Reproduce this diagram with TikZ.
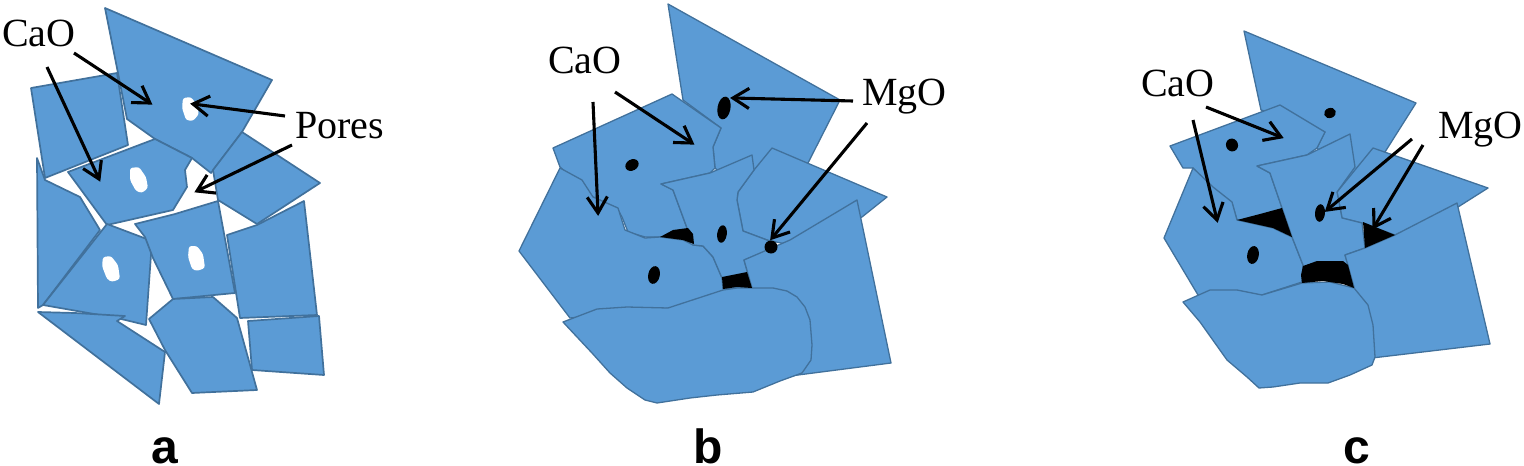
\documentclass[tikz,border=0pt]{standalone}
\usepackage{fontspec}
\setmainfont{Liberation Serif}
\newfontfamily\panelfont{Liberation Sans}
\usetikzlibrary{calc}
\definecolor{grainfill}{HTML}{5B9BD5}
\definecolor{grainedge}{HTML}{41719C}
\tikzset{
  grain/.style={fill=grainfill,draw=grainedge,line width=1.7pt,line join=round},
  grainthin/.style={grain,line width=1.3pt},
  pore/.style={fill=white,draw=none,rounded corners=2.5pt},
  oxide/.style={fill=black,draw=none},
  callout/.style={line width=3.1pt,black,line cap=butt},
  barb/.style={line width=3.1pt,black,line join=miter,line cap=butt},
  lab/.style={font=\fontsize{40}{42}\selectfont,anchor=base west,inner sep=0pt,outer sep=0pt,text=black},
  panel/.style={font=\panelfont\bfseries\fontsize{48}{50}\selectfont,anchor=base,inner sep=0pt,text=black}
}
\begin{document}
\begin{tikzpicture}[x=1pt,y=-1pt]
\useasboundingbox (0,0) rectangle (1524,466);
% ---- panel a ----
\draw[grain] (31,88)--(117,73)--(128,145)--(45,178)--cycle;
\draw[grain] (105,8)--(272,80)--(242,132)--(211,173)--(192,158)--(155,139)--(127,119)--(118,73)--cycle;
\draw[grain] (242,132)--(320,183)--(257,224)--(218,200)--(213,170)--cycle;
\draw[grain] (68,172)--(155,139)--(192,158)--(185,170)--(187,187)--(173,210)--(107,225)--cycle;
\draw[grain] (37,158)--(45,180)--(80,197)--(100,230)--(43,305)--(38,308)--cycle;
\draw[grain] (107,224)--(152,241)--(146,325)--(117,318)--(43,305)--cycle;
\draw[grain] (135,224)--(175,214)--(218,201)--(235,293)--(173,299)--(153,258)--(145,237)--cycle;
\draw[grain] (227,235)--(257,225)--(304,201)--(317,315)--(240,318)--cycle;
\draw[grain] (248,321)--(319,316)--(324,375)--(252,370)--cycle;
\draw[grain] (173,299)--(213,297)--(237,318)--(257,390)--(192,393)--(165,350)--(149,319)--cycle;
\draw[grain] (38,312)--(75,313)--(125,316)--(117,321)--(165,352)--(159,404)--cycle;
\path[pore] (183,98)--(191,97)--(197,105)--(199,114)--(193,121)--(186,120)--(182,108)--cycle;
\path[pore] (130,168)--(139,167)--(146,177)--(148,188)--(142,193)--(136,191)--(130,180)--cycle;
\path[pore] (103,257)--(111,256)--(118,265)--(120,279)--(112,282)--(107,279)--(102,266)--cycle;
\path[pore] (189,246)--(197,246)--(203,254)--(205,268)--(197,271)--(192,269)--(188,257)--cycle;
% ---- panel b ----
\draw[grainthin] (668,4)--(840,100)--(808,163)--(750,200)--(715,168)--(713,147)--(721,128)--(683,100)--cycle;
\draw[grainthin] (772,148)--(887,197)--(862,217)--(790,245)--(767,240)--(743,231)--(737,200)--(738,192)--(754,170)--cycle;
\draw[grainthin] (553,148)--(672,94)--(721,128)--(713,147)--(715,168)--(710,173)--(661,184)--(673,190)--(687,228)--(694,243)--(660,237)--(645,237)--(628,232)--(622,217)--(617,208)--(593,197)--(560,167)--cycle;
\draw[grainthin] (560,168)--(582,180)--(593,197)--(618,208)--(625,230)--(645,238)--(660,237)--(683,240)--(693,245)--(703,246)--(713,257)--(722,278)--(726,292)--(670,308)--(570,318)--(519,251)--cycle;
\draw[grainthin] (661,184)--(710,173)--(752,155)--(754,170)--(738,192)--(737,200)--(743,231)--(767,240)--(777,247)--(744,260)--(752,288)--(723,289)--(722,278)--(713,257)--(703,246)--(693,245)--(687,228)--(673,190)--cycle;
\draw[grainthin] (744,260)--(767,250)--(790,240)--(857,200)--(891,363)--(790,376)--(752,288)--cycle;
\draw[grainthin] (563,322)--(597,309)--(627,307)--(668,308)--(723,290)--(737,288)--(773,288)--(787,291)--(797,297)--(805,307)--(810,320)--(812,345)--(811,360)--(802,373)--(780,381)--(753,392)--(717,395)--(690,398)--(657,403)--(645,400)--(627,388)--(610,373)--(592,353)--(577,337)--cycle;
\fill[oxide,rotate around={-10:(724,108)}] (724,108) ellipse (6.5 and 11.5);
\fill[oxide,rotate around={30:(632,165)}] (632,165) ellipse (7 and 5.5);
\path[oxide] (660,237)--(673,230)--(688,228)--(693,234)--(694,244)--(683,240)--cycle;
\fill[oxide,rotate around={-8:(722,234)}] (722,234) ellipse (4.8 and 8.8);
\fill[oxide] (771,247) circle (6.5);
\fill[oxide,rotate around={-12:(654,275)}] (654,275) ellipse (5.8 and 9);
\path[oxide] (722,277)--(747,272)--(752,288)--(737,287)--(723,289)--cycle;
% ---- panel c ----
\draw[grainthin] (1244,31)--(1416,103)--(1385,152)--(1355,190)--(1317,148)--(1325,132)--(1261,110)--cycle;
\draw[grainthin] (1373,148)--(1488,188)--(1458,207)--(1395,235)--(1362,223)--(1342,218)--(1337,192)--cycle;
\draw[grainthin] (1170,146)--(1280,105)--(1325,132)--(1317,148)--(1307,155)--(1257,166)--(1270,173)--(1282,208)--(1292,237)--(1237,220)--(1232,203)--(1213,192)--(1193,168)--(1183,168)--cycle;
\draw[grainthin] (1193,168)--(1213,187)--(1232,202)--(1237,220)--(1273,228)--(1292,237)--(1303,265)--(1302,282)--(1262,295)--(1198,295)--(1164,238)--cycle;
\draw[grainthin] (1257,166)--(1307,155)--(1350,134)--(1355,167)--(1337,192)--(1342,218)--(1362,223)--(1365,248)--(1345,255)--(1350,270)--(1303,270)--(1303,265)--(1292,237)--(1282,208)--(1270,173)--cycle;
\draw[grainthin] (1345,255)--(1365,248)--(1395,235)--(1457,203)--(1490,344)--(1372,358)--(1360,320)--(1354,287)--cycle;
\draw[grainthin] (1183,302)--(1210,290)--(1237,290)--(1262,295)--(1302,283)--(1330,282)--(1354,288)--(1368,305)--(1373,325)--(1375,357)--(1372,365)--(1350,375)--(1328,383)--(1300,383)--(1273,387)--(1259,388)--(1247,377)--(1227,360)--(1200,322)--cycle;
\fill[oxide,rotate around={20:(1330,113)}] (1330,113) ellipse (6 and 5);
\fill[oxide,rotate around={20:(1232,145)}] (1232,145) ellipse (6 and 6.5);
\path[oxide] (1237,220)--(1260,214)--(1282,208)--(1292,237)--(1273,228)--cycle;
\fill[oxide,rotate around={-5:(1320,213)}] (1320,213) ellipse (5 and 8.8);
\path[oxide] (1363,222)--(1395,235)--(1365,248)--cycle;
\fill[oxide,rotate around={-10:(1253,255)}] (1253,255) ellipse (5.8 and 9);
\path[oxide] (1303,266)--(1317,261)--(1343,261)--(1348,265)--(1354,288)--(1343,284)--(1323,281)--(1302,283)--(1301,275)--cycle;
% ---- labels ----
\node[lab] (cao a) at (2,46) {CaO};
\node[lab] (pores) at (295,138) {Pores};
\node[lab] (cao b) at (548,73) {CaO};
\node[lab] (mgo b) at (862,105) {MgO};
\node[lab] (cao c) at (1141,96) {CaO};
\node[lab] (mgo c) at (1438,138) {MgO};
\node[panel] (pa) at (165,463) {a};
\node[panel] (pb) at (708,463) {b};
\node[panel] (pc) at (1357,463) {c};
% ---- connector ends ----
\coordinate (a1s) at (74,53);   \coordinate (a1e) at (150,103);
\coordinate (a2s) at (47,67);   \coordinate (a2e) at (99,179);
\coordinate (a3s) at (285,116); \coordinate (a3e) at (193,104);
\coordinate (a4s) at (292,145); \coordinate (a4e) at (197,191);
\coordinate (b1s) at (593,102); \coordinate (b1e) at (598,213);
\coordinate (b2s) at (615,92);  \coordinate (b2e) at (692,143);
\coordinate (b3s) at (853,101); \coordinate (b3e) at (733,98);
\coordinate (b4s) at (867,123); \coordinate (b4e) at (772,238);
\coordinate (c1s) at (1193,120); \coordinate (c1e) at (1217,220);
\coordinate (c2s) at (1206,107); \coordinate (c2e) at (1281,137);
\coordinate (c3s) at (1412,139); \coordinate (c3e) at (1327,210);
\coordinate (c4s) at (1423,145); \coordinate (c4e) at (1374,227);
\foreach \n in {a1,a2,a3,a4,b1,b2,b3,b4,c1,c2,c3,c4}{
  \draw[callout] (\n s) -- (\n e);
  \draw[barb] ($(\n e)!19pt!32:(\n s)$) -- (\n e) -- ($(\n e)!19pt!-32:(\n s)$);
}
\end{tikzpicture}
\end{document}
